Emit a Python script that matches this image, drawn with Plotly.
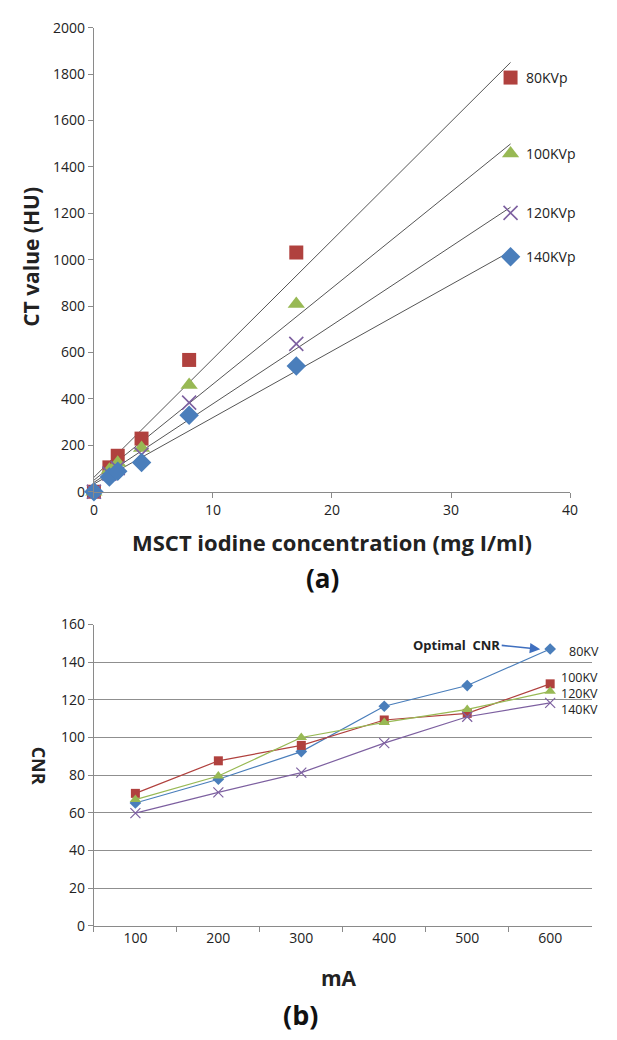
import numpy as np
import plotly.graph_objects as go

# ---------------- data: panel (a) ----------------
conc = [0, 1.3, 2, 4, 8, 17, 35]
hu_80 = [0, 105, 155, 229, 568, 1031, 1785]
hu_100 = [0, 95, 125, 188, 460, 809, 1458]
hu_120 = [0, 78, 102, 160, 384, 637, 1202]
hu_140 = [0, 63, 88, 126, 330, 542, 1013]
kvp_labels = ["80KVp", "100KVp", "120KVp", "140KVp"]

# ---------------- data: panel (b) ----------------
ma = ["100", "200", "300", "400", "500", "600"]
cnr_80 = [65.2, 77.8, 92.5, 116.6, 127.6, 147.0]
cnr_100 = [70.3, 87.6, 95.8, 109.3, 112.8, 128.5]
cnr_120 = [67.0, 79.5, 100.0, 108.0, 114.9, 124.5]
cnr_140 = [59.8, 70.8, 81.3, 97.0, 111.0, 118.4]
kv_labels = ["80KV", "100KV", "120KV", "140KV"]
kv_label_y = [145.8, 131.8, 123.3, 114.8]

BLUE = "#4A7EBB"
RED = "#B0413E"
GREEN = "#98B954"
PURPLE = "#7D60A0"
FONT = "Open Sans"
W, H = 617, 1040

def px(x):
    return x / W

def py(y):
    return 1 - y / H

fig = go.Figure()

# ---- panel (a) ----
series_a = [
    (hu_80, dict(symbol="square", size=14, color=RED)),
    (hu_100, dict(symbol="triangle-up", size=15, color=GREEN)),
    (hu_120, dict(symbol="x-thin", size=14, color=PURPLE, line=dict(width=1.6, color=PURPLE))),
    (hu_140, dict(symbol="diamond", size=15, color=BLUE)),
]
for ys, mk in series_a:
    slope, icpt = np.polyfit(conc, ys, 1)
    xl = np.array([0, conc[-1]])
    fig.add_trace(go.Scatter(x=xl, y=slope * xl + icpt, mode="lines",
                             line=dict(color="#555555", width=1),
                             xaxis="x", yaxis="y", showlegend=False, hoverinfo="skip"))
for ys, mk in series_a:
    fig.add_trace(go.Scatter(x=conc, y=ys, mode="markers", marker=mk,
                             xaxis="x", yaxis="y", showlegend=False, cliponaxis=False))

for lab, ys in zip(kvp_labels, [hu_80, hu_100, hu_120, hu_140]):
    fig.add_annotation(x=conc[-1], y=ys[-1], xref="x", yref="y", text=lab,
                       showarrow=False, xanchor="left", yanchor="middle", xshift=13,
                       font=dict(family=FONT, size=14, color="#222"))

# ---- panel (b) ----
series_b = [
    (cnr_80, BLUE, dict(symbol="diamond", size=9, color=BLUE)),
    (cnr_100, RED, dict(symbol="square", size=9, color=RED)),
    (cnr_120, GREEN, dict(symbol="triangle-up", size=10, color=GREEN)),
    (cnr_140, PURPLE, dict(symbol="x-thin", size=10, color=PURPLE, line=dict(width=1.2, color=PURPLE))),
]
for ys, col, mk in series_b:
    fig.add_trace(go.Scatter(x=ma, y=ys, mode="lines+markers", marker=mk,
                             line=dict(color=col, width=1.2),
                             xaxis="x2", yaxis="y2", showlegend=False, cliponaxis=False))

for lab, yv in zip(kv_labels, kv_label_y):
    fig.add_annotation(x=5, y=yv, xref="x2", yref="y2", text=lab, showarrow=False,
                       xanchor="left", yanchor="middle", xshift=17 if lab == "80KV" else 9,
                       font=dict(family=FONT, size=12.5, color="#222"))

# Optimal CNR arrow + text
fig.add_annotation(x=4.88, y=146.9, xref="x2", yref="y2", text="",
                   showarrow=True, ax=-40, ay=-4, arrowhead=2, arrowsize=1.3,
                   arrowwidth=1.6, arrowcolor="#3F6FBF")
fig.add_annotation(x=px(461), y=py(647), xref="paper", yref="paper",
                   text="<b>Optimal  CNR</b>", showarrow=False,
                   xanchor="center", yanchor="middle",
                   font=dict(family=FONT, size=13, color="#222"))

def label(x, y, text, size, angle=0, color="#222"):
    fig.add_annotation(x=px(x), y=py(y), xref="paper", yref="paper", text=text,
                       textangle=angle, showarrow=False, xanchor="center", yanchor="middle",
                       font=dict(family=FONT, size=size, color=color))

label(28, 251, "<b>CT value (HU)</b>", 21, angle=-90)
label(335, 542, "<b>MSCT iodine concentration (mg I/ml)</b>", 22)
label(325, 579, "<b>(a)</b>", 26, color="#111")
label(36, 770, "<b>CNR</b>", 18, angle=90)
label(342, 986, "<b>mA</b>", 21)
label(302, 1023, "<b>(b)</b>", 27, color="#111")

axis_common = dict(showline=True, linecolor="#8a8a8a", linewidth=1, ticks="outside",
                   tickcolor="#8a8a8a", ticklen=5, zeroline=False,
                   tickfont=dict(family=FONT, size=14, color="#222"))

fig.update_layout(
    width=W, height=H, margin=dict(l=0, r=0, t=0, b=0),
    paper_bgcolor="white", plot_bgcolor="white",
    xaxis=dict(domain=[px(91.7), px(577.3)], anchor="y", range=[0, 40],
               tickvals=[0, 10, 20, 30, 40], showgrid=False, **axis_common),
    yaxis=dict(domain=[py(490.7), py(18)], anchor="x", range=[0, 2000],
               tickvals=list(range(0, 2001, 200)), showgrid=False, **axis_common),
    xaxis2=dict(domain=[px(91.7), px(599.3)], anchor="y2", type="category",
                range=[-0.5, 5.5], tickson="boundaries", showgrid=False, **axis_common),
    yaxis2=dict(domain=[py(932.7), py(626)], anchor="x2", range=[0, 160],
                tickvals=list(range(0, 161, 20)), showgrid=True, gridcolor="#8f8f8f",
                gridwidth=1.2, **axis_common),
)

fig.write_html("out.html", config={"displayModeBar": False},
               post_script="document.body.style.margin='0';")
